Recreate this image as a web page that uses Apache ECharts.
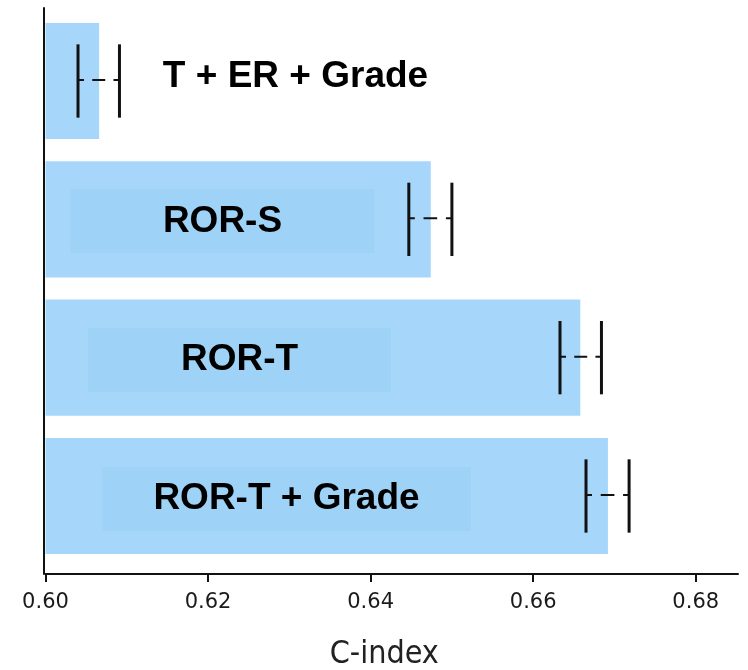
<!DOCTYPE html>
<html>
<head>
<meta charset="utf-8">
<script src="https://cdn.jsdelivr.net/npm/echarts@6/dist/echarts.min.js"></script>
<style>
  html, body { margin: 0; padding: 0; background: #ffffff; }
  #chart { width: 748px; height: 670px; }
</style>
</head>
<body>
<div id="chart"></div>
<script>
// ---- data ----
const categories = ['T + ER + Grade', 'ROR-S', 'ROR-T', 'ROR-T + Grade'];
const cIndex   = [0.6066, 0.6474, 0.6658, 0.6692];
const ciLower  = [0.6040, 0.6447, 0.6633, 0.6665];
const ciUpper  = [0.6091, 0.6500, 0.6684, 0.6718];
const xTicks   = [0.60, 0.62, 0.64, 0.66, 0.68];
const xMin = 0.60;
const xMax = 0.6852;

// ---- styling (not data) ----
const BAR_COLOR = '#a6d7fb';
const INNER_COLOR = '#9ed2f6';
const BAR_FRAC = 0.84;     // bar thickness as a fraction of the band
const CAP_FRAC = 0.53;     // error-bar cap height as a fraction of the band
const labelCenterPx = [250, 177, 194, 241];   // label centre, px right of the axis start
const labelDyPx = [-4, 2, 2, 3];
const labelBoxW = [0, 304, 303, 369];
const labelBoxH = 64;

const seriesData = categories.map((c, i) => [i, cIndex[i], ciLower[i], ciUpper[i]]);

const chart = echarts.init(document.getElementById('chart'), null, { renderer: 'canvas' });

chart.setOption({
  animation: false,
  backgroundColor: '#ffffff',
  grid: { left: 45.5, right: 10, top: 8, bottom: 96, containLabel: false, outerBoundsMode: 'none' },
  xAxis: {
    type: 'value',
    min: xMin,
    max: xMax,
    interval: 0.02,
    position: 'bottom',
    name: 'C-index',
    nameLocation: 'middle',
    nameGap: 65,
    nameTextStyle: {
      fontFamily: 'DejaVu Sans Condensed',
      fontSize: 32,
      color: '#222222',
      padding: [0, 15, 0, 0]
    },
    axisLine: { show: true, onZero: false, lineStyle: { color: '#111111', width: 2 } },
    axisTick: { show: true, length: 8, customValues: xTicks, lineStyle: { color: '#111111', width: 2 } },
    axisLabel: {
      customValues: xTicks,
      formatter: v => Number(v).toFixed(2),
      fontFamily: 'DejaVu Sans',
      fontSize: 21,
      color: '#1a1a1a',
      margin: 18
    },
    splitLine: { show: false }
  },
  yAxis: {
    type: 'value',
    inverse: true,
    min: -0.5277,
    max: 3.5639,
    offset: 1.5,
    axisLine: { show: true, onZero: false, lineStyle: { color: '#111111', width: 2 } },
    axisTick: { show: false },
    axisLabel: { show: false },
    splitLine: { show: false }
  },
  series: [{
    type: 'custom',
    encode: { x: [1, 2, 3], y: 0 },
    data: seriesData,
    renderItem: function (params, api) {
      const i = params.dataIndex;
      const yi = api.value(0);
      const v = api.value(1);
      const lo = api.value(2);
      const hi = api.value(3);
      const band = api.size([0, 1])[1];
      const start = api.coord([xMin, yi]);
      const end = api.coord([v, yi]);
      const pLo = api.coord([lo, yi]);
      const pHi = api.coord([hi, yi]);
      const barH = band * BAR_FRAC;
      const capH = band * CAP_FRAC;
      const cy = start[1];
      const children = [];
      children.push({
        type: 'rect',
        shape: { x: start[0], y: cy - barH / 2, width: end[0] - start[0], height: barH },
        style: { fill: BAR_COLOR }
      });
      const lx = start[0] + labelCenterPx[i];
      const ly = cy + labelDyPx[i];
      if (labelBoxW[i] > 0) {
        children.push({
          type: 'rect',
          shape: { x: lx - labelBoxW[i] / 2, y: ly - labelBoxH / 2, width: labelBoxW[i], height: labelBoxH },
          style: { fill: INNER_COLOR }
        });
      }
      children.push({
        type: 'text',
        x: lx, y: ly,
        style: {
          text: categories[i],
          fontFamily: 'Liberation Sans, Arial, sans-serif',
          fontWeight: 'bold',
          fontSize: 37,
          fill: '#000000',
          align: 'center',
          verticalAlign: 'middle'
        }
      });
      // error bar: dashed connector, then caps
      const span = pHi[0] - pLo[0];
      const stub = 6, gap = (span - 2 * stub) * 0.28;
      children.push({
        type: 'line',
        shape: { x1: pLo[0], y1: cy - 1, x2: pHi[0], y2: cy - 1 },
        style: { stroke: '#111111', lineWidth: 2, lineDash: [stub, gap, span - 2 * stub - 2 * gap, gap, stub + 20] }
      });
      children.push({
        type: 'line',
        shape: { x1: pLo[0], y1: cy - capH / 2, x2: pLo[0], y2: cy + capH / 2 },
        style: { stroke: '#111111', lineWidth: 3 }
      });
      children.push({
        type: 'line',
        shape: { x1: pHi[0], y1: cy - capH / 2, x2: pHi[0], y2: cy + capH / 2 },
        style: { stroke: '#111111', lineWidth: 3 }
      });
      return { type: 'group', children: children };
    }
  }]
});
</script>
</body>
</html>
